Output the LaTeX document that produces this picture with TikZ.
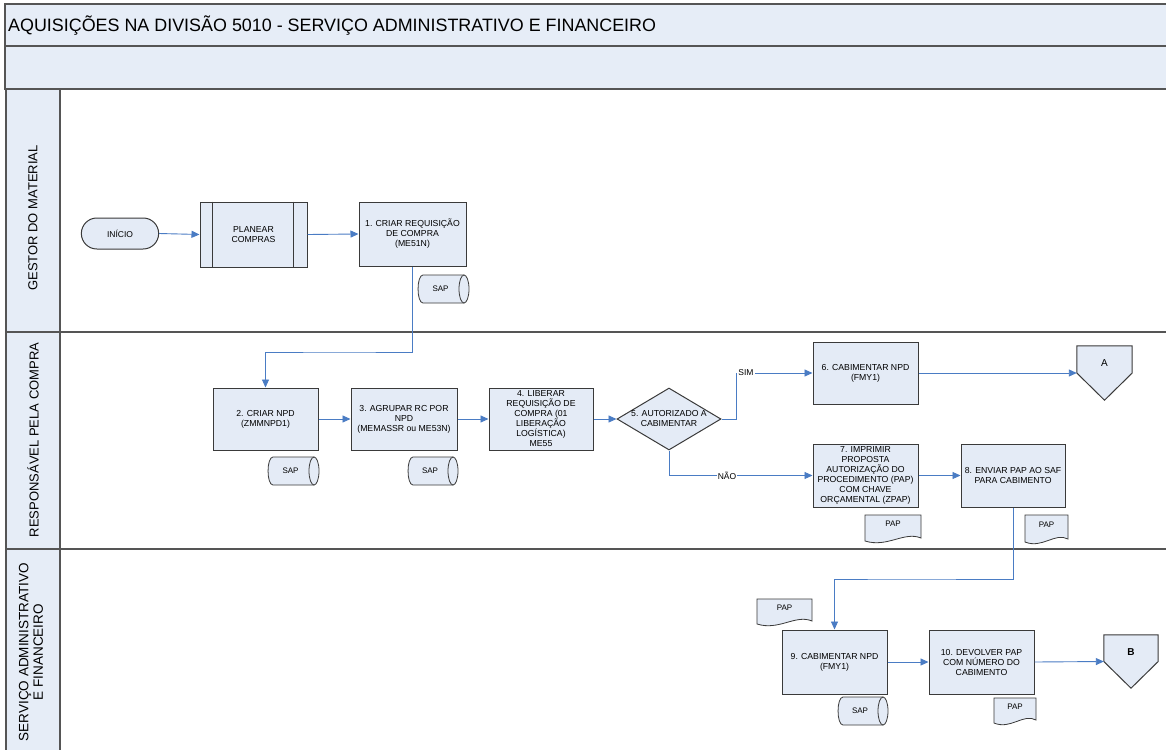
\documentclass[tikz,border=0pt]{standalone}
\usepackage{fontspec}
\setmainfont{Liberation Sans}
\usetikzlibrary{shapes.geometric,shapes.misc,arrows.meta}
\definecolor{lanefill}{HTML}{E6EDF7}
\definecolor{boxfill}{HTML}{E4EBF6}
\definecolor{edgeline}{HTML}{3A3A3A}
\definecolor{frameline}{HTML}{555555}
\definecolor{flow}{HTML}{4A7CC4}
\newcommand\papdoc[5]{%
  \draw[docline] (#2,#3) -- (#4,#3) -- (#4,#5-3) .. controls ({#4-(#4-#2)*0.3},#5-10) and ({#2+(#4-#2)*0.4},#5+7) .. (#2,#5) -- cycle;
  \node[inner sep=0, font=\fontsize{8}{9}\selectfont] (#1) at ({(#2+#4)/2},{(#3+#5)/2-4}) {PAP};
}
% name, left x (outer), top y, right x (outer), bottom y
\newcommand\sapdrum[5]{%
  \draw[docline] ({#2+5},#3) -- ({#4-5},#3) -- ({#4-5},#5) -- ({#2+5},#5)
     .. controls ({#2-1.6},#5) and ({#2-1.6},#3) .. ({#2+5},#3) -- cycle;
  \draw[docline] ({#4-5},{(#3+#5)/2}) ellipse [x radius=5, y radius={(#5-#3)/2}];
  \node[inner sep=0, font=\fontsize{8}{9}\selectfont] (#1) at ({(#2+#4)/2-3},{(#3+#5)/2}) {SAP};
}
\begin{document}
\begin{tikzpicture}[x=1pt,y=-1pt,
  proc/.style={draw=edgeline, line width=1pt, fill=boxfill, minimum width=105pt, minimum height=63pt,
    inner sep=0.5pt, align=center, font=\fontsize{8.7}{10}\selectfont},
  flowline/.style={draw=flow, line width=0.9pt, -{Triangle[length=8pt,width=7pt]}},
  docline/.style={draw=edgeline, line width=0.8pt, fill=boxfill},
  shapeline/.style={draw=edgeline, line width=1pt, fill=boxfill},
  lanelabel/.style={rotate=90, align=center, font=\fontsize{13}{14}\selectfont},
  lbl/.style={fill=white, inner sep=1pt, font=\fontsize{8.5}{10}\selectfont}
]
\useasboundingbox (0,0) rectangle (1166,749);
% frame and bands
\fill[white] (0,0) rectangle (1166,749);
\draw[frameline, line width=1.2pt, fill=lanefill] (5,4) rectangle (1172,46);
\draw[frameline, line width=1.2pt, fill=lanefill] (5,46) rectangle (1172,89);
\draw[frameline, line width=1.2pt, fill=lanefill] (6,89) rectangle (60,755);
\draw[frameline, line width=1.2pt] (60,332) -- (1172,332);
\draw[frameline, line width=1.2pt] (6,332) -- (60,332);
\draw[frameline, line width=1.2pt] (6,549) -- (1172,549);
\node[anchor=west, inner sep=0, font=\fontsize{17.9}{20}\selectfont] (title) at (8,26) {AQUISIÇÕES NA DIVISÃO 5010 - SERVIÇO ADMINISTRATIVO E FINANCEIRO};
\node[lanelabel] (lane1) at (33,218) {GESTOR DO MATERIAL};
\node[lanelabel] (lane2) at (33,440) {RESPONSÁVEL PELA COMPRA};
\node[lanelabel, font=\fontsize{13.5}{14.5}\selectfont] (lane3) at (31,652) {SERVIÇO ADMINISTRATIVO\\E FINANCEIRO};

% lane 1
\node[draw=edgeline, line width=1pt, fill=boxfill, rounded rectangle, minimum width=84pt, minimum height=31pt,
  font=\fontsize{8.5}{10}\selectfont] (ini) at (120,233.5) {INÍCIO};
\node[proc, minimum width=107pt, minimum height=65pt] (plan) at (253.5,234.5) {PLANEAR\\COMPRAS};
\draw[edgeline, line width=1pt] ([xshift=13pt]plan.north west) -- ([xshift=13pt]plan.south west);
\draw[edgeline, line width=1pt] ([xshift=-14pt]plan.north east) -- ([xshift=-14pt]plan.south east);
\node[proc, minimum width=107pt, minimum height=64pt] (b1) at (412.5,234) {1. CRIAR REQUISIÇÃO\\DE COMPRA\\(ME51N)};
\sapdrum{sap1}{418}{275}{469}{303}

% lane 2
\node[proc, minimum height=62pt] (b2) at (265.5,419) {2. CRIAR NPD\\(ZMMNPD1)};
\sapdrum{sap2}{268}{457}{319}{485}
\node[proc, minimum width=106pt, minimum height=62pt] (b3) at (404,419) {3. AGRUPAR RC POR\\NPD\\(MEMASSR ou ME53N)};
\sapdrum{sap3}{408}{457}{458}{485}
\node[proc, minimum width=104pt, minimum height=62pt] (b4) at (541,419) {4. LIBERAR\\REQUISIÇÃO DE\\COMPRA (01\\LIBERAÇÃO\\LOGÍSTICA)\\ME55};
\node[diamond, draw=edgeline, line width=1pt, fill=boxfill, minimum width=104pt, minimum height=62pt, inner sep=0] (d5) at (669,419) {};
\node[align=center, font=\fontsize{8.7}{10}\selectfont] (d5t) at (669,419) {5. AUTORIZADO A\\CABIMENTAR};
\node[proc, minimum height=62pt] (b6) at (865.5,373) {6. CABIMENTAR NPD\\(FMY1)};
\node[inner sep=0, minimum width=55pt, minimum height=54pt] (offA) at (1104.5,373) {};
\draw[shapeline] (offA.north west) -- (offA.north east) -- (offA.east) -- (offA.south) -- (offA.west) -- cycle;
\node[font=\fontsize{10}{12}\selectfont] (offAt) at (1104.5,363) {A};
\node[proc, minimum height=63pt] (b7) at (865.5,475.5) {7. IMPRIMIR\\PROPOSTA\\AUTORIZAÇÃO DO\\PROCEDIMENTO (PAP)\\COM CHAVE\\ORÇAMENTAL (ZPAP)};
\papdoc{pap7}{865}{515}{921}{541}
\node[proc, minimum width=104pt, minimum height=63pt] (b8) at (1013,475.5) {8. ENVIAR PAP AO SAF\\PARA CABIMENTO};
\papdoc{pap8}{1025}{515}{1068}{542}

% lane 3
\papdoc{pap9a}{757}{599}{812}{624}
\node[proc, minimum height=64pt] (b9) at (834.5,662) {9. CABIMENTAR NPD\\(FMY1)};
\sapdrum{sap9}{838}{697}{888}{725}
\node[proc, minimum height=64pt] (b10) at (981.5,662) {10. DEVOLVER PAP\\COM NÚMERO DO\\CABIMENTO};
\papdoc{pap10}{994}{698}{1036}{723}
\node[inner sep=0, minimum width=54pt, minimum height=53pt] (offB) at (1131,661.5) {};
\draw[shapeline] (offB.north west) -- (offB.north east) -- (offB.east) -- (offB.south) -- (offB.west) -- cycle;
\node[font=\bfseries\fontsize{10}{12}\selectfont] (offBt) at (1131,652) {B};

% connectors
\draw[flowline] (ini.east) -- (plan.west);
\draw[flowline] (plan.east) -- (b1.west);
\draw[flowline] (b1.south) |- (340,352) -| (b2.north);
\draw[flowline] (b2.east) -- (b3.west);
\draw[flowline] (b3.east) -- (b4.west);
\draw[flowline] (b4.east) -- (d5.west);
\draw[flowline] (d5.east) -- (736,419) |- (b6.west);
\node[lbl] (sim) at (746,373) {SIM};
\draw[flowline] (d5.south) |- (b7.west);
\node[lbl] (nao) at (727,476) {NÃO};
\draw[flowline] (b6.east) -- (offA.west);
\draw[flowline] (b7.east) -- (b8.west);
\draw[flowline] (b8.south) |- (900,579) -| (b9.north);
\draw[flowline] (b9.east) -- (b10.west);
\draw[flowline] (b10.east) -- (offB.west);
\end{tikzpicture}
\end{document}
